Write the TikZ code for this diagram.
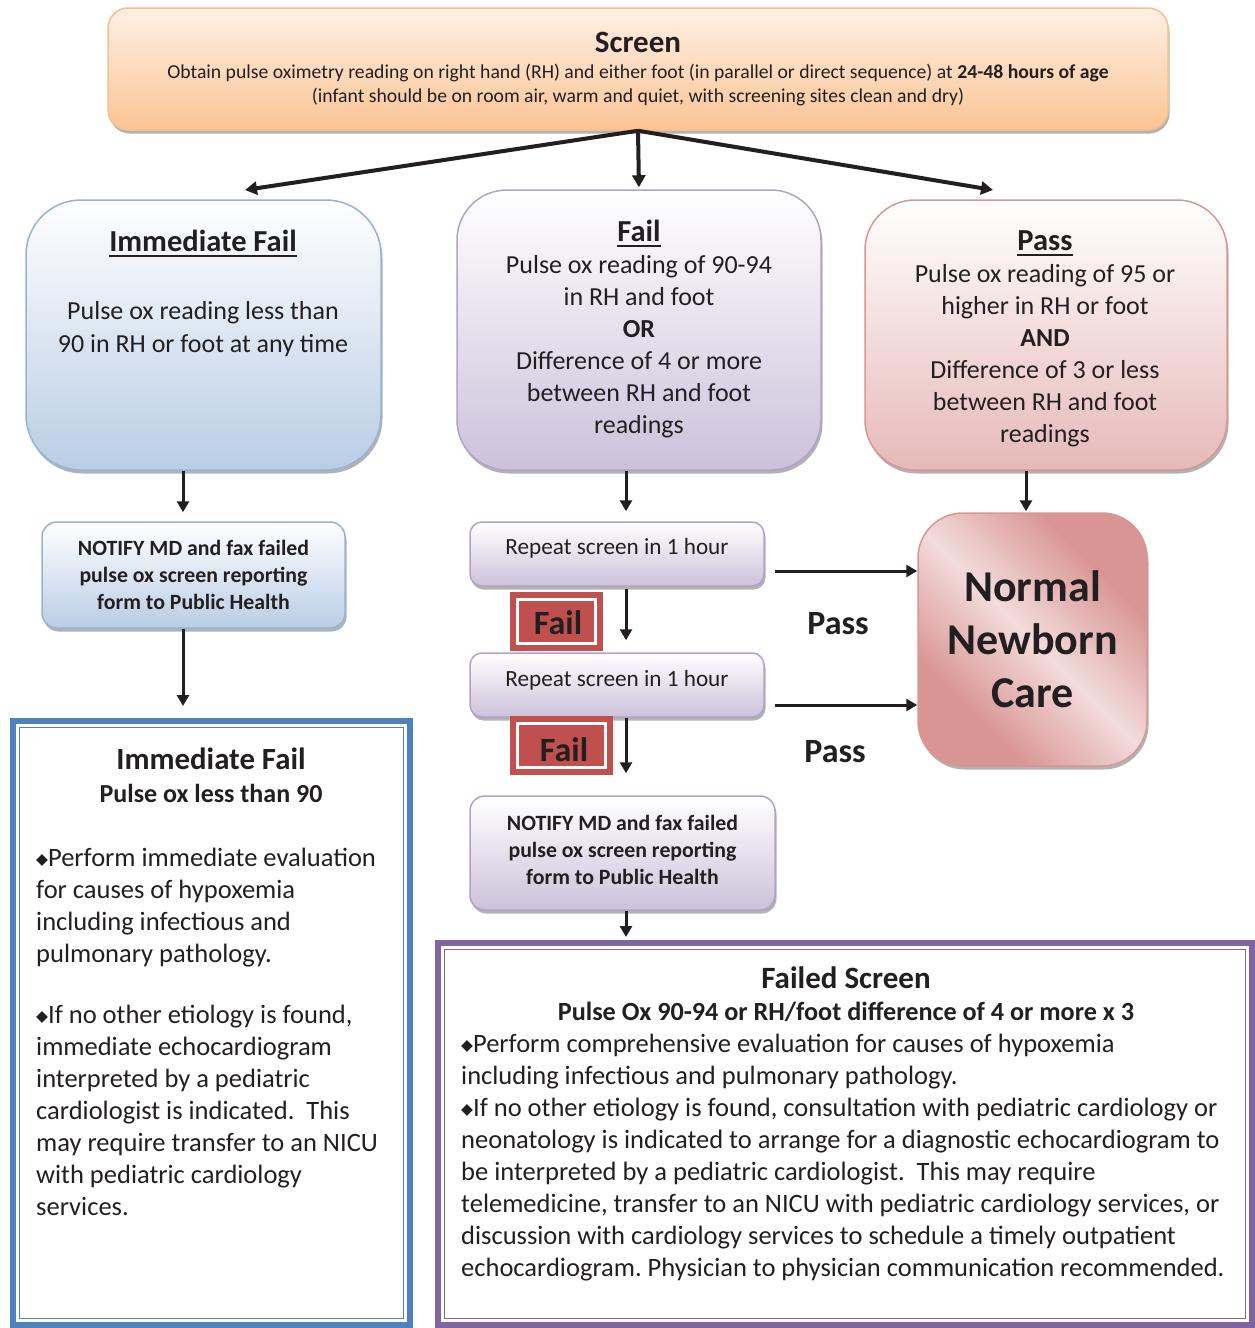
\documentclass[tikz,border=0pt]{standalone}
\usepackage{fontspec}
\setmainfont{Carlito}
\newfontfamily\djv{DejaVu Sans}
\usetikzlibrary{arrows.meta,shadows}
\frenchspacing
\definecolor{txt}{HTML}{231F20}
\definecolor{orTop}{HTML}{FEF0E4}
\definecolor{orBot}{HTML}{FAC495}
\definecolor{orLine}{HTML}{F8BE8C}
\definecolor{blTop}{HTML}{FFFFFF}
\definecolor{blBot}{HTML}{B9CDE5}
\definecolor{blLine}{HTML}{95B3D7}
\definecolor{puTop}{HTML}{FFFFFF}
\definecolor{puBot}{HTML}{CCC1DA}
\definecolor{puLine}{HTML}{B3A2C7}
\definecolor{reTop}{HTML}{FFFFFF}
\definecolor{reBot}{HTML}{E6B9B8}
\definecolor{reLine}{HTML}{D99694}
\definecolor{reDark}{HTML}{D99594}
\definecolor{reLight}{HTML}{F2DCDB}
\definecolor{failRed}{HTML}{C0504D}
\definecolor{bigBlue}{HTML}{4F81BD}
\definecolor{bigPurple}{HTML}{8064A2}
\pgfdeclarehorizontalshading{nncshade}{100bp}{color(0bp)=(reDark); color(30bp)=(reDark); color(50bp)=(reLight); color(70bp)=(reDark); color(100bp)=(reDark)}
\newcommand{\dmd}{{\djv\fontsize{15.5}{15.5}\selectfont\raisebox{2.5pt}{◆}}}
\tikzset{
  shbox/.style={line width=1.5pt, inner sep=0pt, drop shadow={shadow xshift=1.5pt, shadow yshift=-3.5pt, fill=black, opacity=0.3}},
  orbox/.style={shbox, draw=orLine, top color=orTop, bottom color=orBot},
  blbox/.style={shbox, draw=blLine, top color=blTop, bottom color=blBot},
  pubox/.style={shbox, draw=puLine, top color=puTop, bottom color=puBot},
  rebox/.style={shbox, draw=reLine, top color=reTop, bottom color=reBot},
  tx/.style={text=txt, inner sep=0pt, align=center},
  arr/.style={-{Triangle[length=11pt,width=12pt]}, line width=3pt, draw=txt},
  arrw/.style={-{Triangle[length=12pt,width=13pt]}, line width=4pt, draw=txt},
  failbox/.style={fill=failRed, inner sep=0pt, minimum height=59pt},
  uline/.style={draw=txt, line width=2.4pt},
}
\begin{document}
\begin{tikzpicture}[x=1pt,y=-1pt]
\useasboundingbox (0,0) rectangle (1255,1328);
\clip (0,0) rectangle (1255,1328);
\fill[white] (0,0) rectangle (1255,1328);

% Screen
\node[orbox, rounded corners=20pt, minimum width=1060pt, minimum height=122pt] (scr) at (638,69) {};
\node[tx, font=\bfseries\fontsize{31}{32}\selectfont] (scrT) at (638,42) {Screen};
\node[tx, font=\fontsize{19.7}{24}\selectfont] (scrB) at (638,85) {Obtain pulse oximetry reading on right hand (RH) and either foot (in parallel or direct sequence) at \textbf{24-48 hours of age}\\(infant should be on room air, warm and quiet, with screening sites clean and dry)};

% Three result boxes
\node[blbox, rounded corners=55pt, minimum width=355pt, minimum height=270pt] (imf) at (203.5,335) {};
\node[tx, font=\bfseries\fontsize{30.5}{32}\selectfont] (imfT) at (203,241) {Immediate Fail};
\draw[uline] ([yshift=-4pt]imfT.south west) -- ([yshift=-4pt]imfT.south east);
\node[tx, font=\fontsize{26}{33}\selectfont] (imfB) at (203,329) {Pulse ox reading less than\\90 in RH or foot at any time};

\node[pubox, rounded corners=50pt, minimum width=364pt, minimum height=280pt] (fail) at (639,330) {};
\node[tx, font=\bfseries\fontsize{30.5}{32}\selectfont] (failT) at (639,231) {Fail};
\draw[uline] ([yshift=-4pt]failT.south west) -- ([yshift=-4pt]failT.south east);
\node[tx, font=\fontsize{26}{32}\selectfont] (failB) at (639,347) {Pulse ox reading of 90-94\\in RH and foot\\\textbf{OR}\\Difference of 4 or more\\between RH and foot\\readings};

\node[rebox, rounded corners=50pt, minimum width=362pt, minimum height=270pt] (pass) at (1046,335) {};
\node[tx, font=\bfseries\fontsize{30.5}{32}\selectfont] (passT) at (1045,241) {Pass};
\draw[uline] ([yshift=-4pt]passT.south west) -- ([yshift=-4pt]passT.south east);
\node[tx, font=\fontsize{26}{32}\selectfont] (passB) at (1045,356) {Pulse ox reading of 95 or\\higher in RH or foot\\\textbf{AND}\\Difference of 3 or less\\between RH and foot\\readings};

% Second row
\node[blbox, rounded corners=15pt, minimum width=303pt, minimum height=106pt] (notL) at (193.5,575) {};
\node[tx, font=\bfseries\fontsize{21.8}{27}\selectfont] (notLT) at (193.5,575) {NOTIFY MD and fax failed\\pulse ox screen reporting\\form to Public Health};

\node[pubox, rounded corners=12pt, minimum width=294pt, minimum height=64pt] (rep1) at (617,554) {};
\node[tx, font=\fontsize{23.2}{24}\selectfont] (rep1T) at (617,548) {Repeat screen in 1 hour};
\node[pubox, rounded corners=12pt, minimum width=294pt, minimum height=64pt] (rep2) at (617,685) {};
\node[tx, font=\fontsize{23.2}{24}\selectfont] (rep2T) at (617,680) {Repeat screen in 1 hour};

\node[failbox, minimum width=93pt] (fl1) at (556.5,621.5) {};
\draw[white, line width=3pt] ([shift={(7.5,7.5)}]fl1.north west) rectangle ([shift={(-7.5,-7.5)}]fl1.south east);
\node[tx, font=\bfseries\fontsize{34}{34}\selectfont] (fl1T) at (558,623) {Fail};
\node[failbox, minimum width=103pt] (fl2) at (561.5,745.5) {};
\draw[white, line width=3pt] ([shift={(7.5,7.5)}]fl2.north west) rectangle ([shift={(-7.5,-7.5)}]fl2.south east);
\node[tx, font=\bfseries\fontsize{34}{34}\selectfont] (fl2T) at (564,750) {Fail};

\node[tx, font=\bfseries\fontsize{34}{34}\selectfont] (pass1) at (838,624) {Pass};
\node[tx, font=\bfseries\fontsize{34}{34}\selectfont] (pass2) at (835,752) {Pass};

\node[shbox, draw=reLine, shading=nncshade, shading angle=45, rounded corners=45pt, minimum width=229pt, minimum height=253pt] (nnc) at (1032.5,639.5) {};
\node[tx, font=\bfseries\fontsize{44}{53}\selectfont] (nncT) at (1032.5,639) {Normal\\Newborn\\Care};

\node[pubox, rounded corners=15pt, minimum width=305pt, minimum height=114pt] (notM) at (622.5,853) {};
\node[tx, font=\bfseries\fontsize{21.8}{27}\selectfont] (notMT) at (622.5,850) {NOTIFY MD and fax failed\\pulse ox screen reporting\\form to Public Health};

% Big blue box
\coordinate (bbNW) at (13,721);
\coordinate (bbSE) at (410,1325);
\draw[bigBlue, line width=6pt] (bbNW) rectangle (bbSE);
\draw[bigBlue, line width=1.5pt] (19.5,727.5) rectangle (403.5,1318.5);
\node[tx, font=\bfseries\fontsize{30.8}{32}\selectfont] (bbT) at (211,759) {Immediate Fail};
\node[tx, font=\bfseries\fontsize{26}{32}\selectfont] (bbS) at (211,793) {Pulse ox less than 90};
\node[tx, align=left, anchor=west, font=\fontsize{26.5}{32}\selectfont] (bbB) at (36,1032) {\dmd Perform immediate evaluation\\for causes of hypoxemia\\including infectious and\\pulmonary pathology.\\[29pt]\dmd If no other etiology is found,\\immediate echocardiogram\\interpreted by a pediatric\\cardiologist is indicated.\ \ This\\may require transfer to an NICU\\with pediatric cardiology\\services.};

% Big purple box
\coordinate (bpNW) at (438,943);
\coordinate (bpSE) at (1252,1325);
\draw[bigPurple, line width=6pt] (bpNW) rectangle (bpSE);
\draw[bigPurple, line width=1.5pt] (444.5,949.5) rectangle (1245.5,1318.5);
\node[tx, font=\bfseries\fontsize{31}{32}\selectfont] (bpT) at (846,978) {Failed Screen};
\node[tx, font=\bfseries\fontsize{26.2}{32}\selectfont] (bpS) at (846,1012) {Pulse Ox 90-94 or RH/foot difference of 4 or more x 3};
\node[tx, align=left, anchor=west, font=\fontsize{26.5}{32}\selectfont] (bpB) at (461,1158) {\dmd Perform comprehensive evaluation for causes of hypoxemia\\including infectious and pulmonary pathology.\\\dmd If no other etiology is found, consultation with pediatric cardiology or\\neonatology is indicated to arrange for a diagnostic echocardiogram to\\be interpreted by a pediatric cardiologist.\ \ This may require\\telemedicine, transfer to an NICU with pediatric cardiology services, or\\discussion with cardiology services to schedule a timely outpatient\\echocardiogram. Physician to physician communication recommended.};

% Connectors
\coordinate (eL) at (245,190);
\coordinate (eR) at (993,190);
\draw[arrw] (scr.south) -- (eL);
\draw[arrw, shorten >=2pt] (scr.south) -- (fail.north);
\draw[arrw] (scr.south) -- (eR);

\coordinate (xL) at (183,0);
\coordinate (xM) at (626,0);
\coordinate (xR) at (1026,0);
\draw[arr, shorten >=9pt] (imf.south -| xL) -- (notL.north -| xL);
\draw[arr, shorten >=15pt] (notL.south -| xL) -- (bbNW -| xL);
\draw[arr, shorten >=10pt] (fail.south -| xM) -- (rep1.north -| xM);
\draw[arr, shorten >=1pt] (pass.south -| xR) -- (nnc.north -| xR);
\draw[arr, shorten >=12pt] ([yshift=-2pt]rep1.south -| xM) -- (rep2.north -| xM);
\draw[arr, shorten >=22pt] (rep2.south -| xM) -- (notM.north -| xM);
\draw[arr, shorten >=6pt] (notM.south -| xM) -- (bpNW -| xM);
\coordinate (p1) at (775,571);
\coordinate (p2) at (775,705);
\draw[arr] (p1) -- (p1 -| nnc.west);
\draw[arr] (p2) -- (p2 -| nnc.west);
\end{tikzpicture}
\end{document}
